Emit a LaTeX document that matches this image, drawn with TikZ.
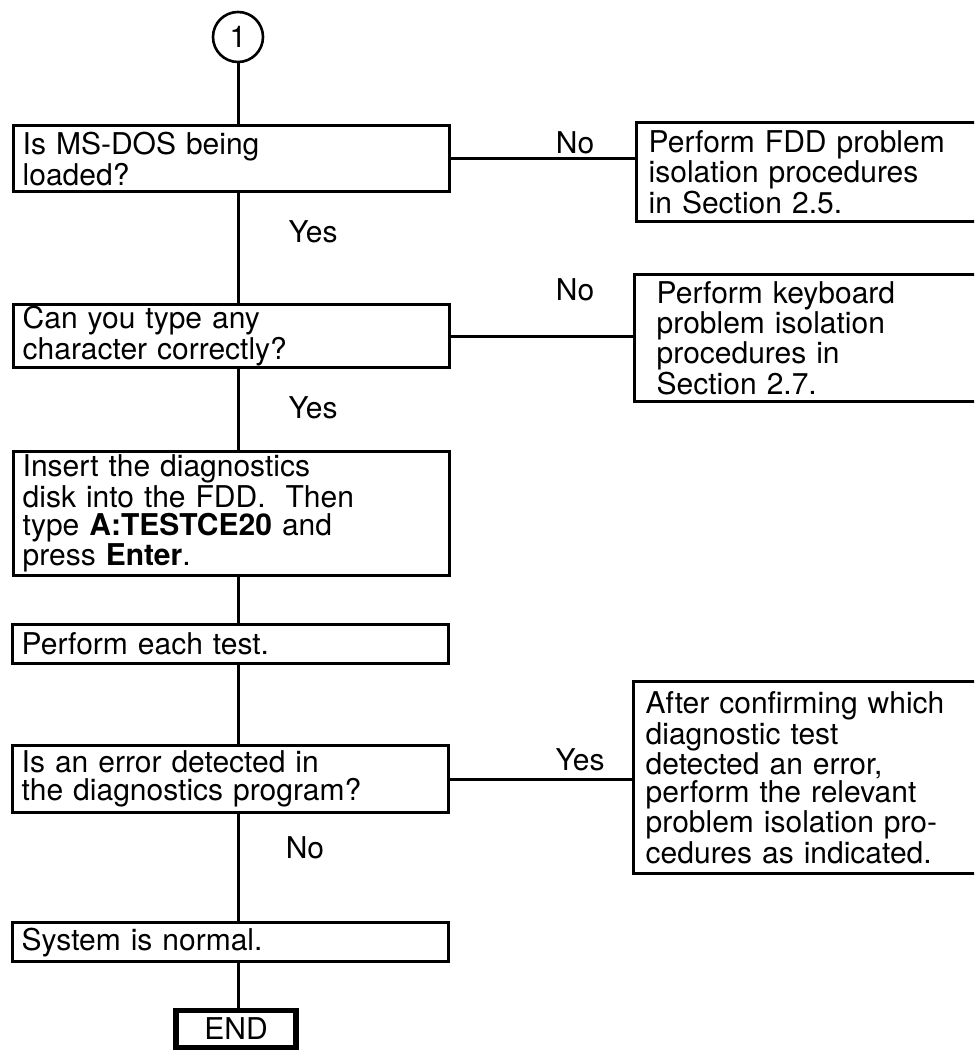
\documentclass[tikz,border=0pt]{standalone}
\usepackage{fontspec}
\setmainfont{TeX Gyre Heros}
\usetikzlibrary{calc}

\tikzset{
	stepbox/.style={draw, rectangle, line width=1.7pt, anchor=north west,
		inner xsep=4.5pt, inner ysep=0pt, text width=209pt, align=left},
	sidebox/.style={draw, rectangle, line width=1.7pt, anchor=north west,
		inner xsep=6pt, inner ysep=0pt, text width=188pt, align=left},
	endbox/.style={draw, rectangle, line width=2.8pt, minimum width=60pt, minimum height=18.5pt, inner sep=0pt},
	answer/.style={inner sep=0pt},
	wire/.style={line width=1.5pt},
}

\begin{document}
\begin{tikzpicture}[x=0.5pt, y=-0.5pt, font=\fontsize{15}{14}\selectfont]
		\useasboundingbox (0,0) rectangle (974,1052);
		\clip (0,0) rectangle (974,1052);
		% start marker
		\node[draw, circle, line width=1.3pt, minimum size=25pt, inner sep=0pt] (start) at (238,37) {1};
		% main column
		\node[stepbox, minimum height=33pt] (msdos) at (12,124) {Is MS-DOS being\\loaded?};
		\node[stepbox, minimum height=31.5pt] (keys) at (12,303) {Can you type any\\character correctly?};
		\node[stepbox, minimum height=62pt] (insert) at (12,450)
			{Insert the diagnostics\\disk into the FDD.~~Then\\type \textbf{A:TESTCE20} and\\press \textbf{Enter}.};
		\node[stepbox, minimum height=19.5pt] (tests) at (11,623) {Perform each test.};
		\node[stepbox, minimum height=33.5pt] (error) at (11,744) {Is an error detected in\\the diagnostics program?};
		\node[stepbox, minimum height=19.5pt] (normal) at (11,921) {System is normal.};
		\node[endbox] (finish) at (236,1029) {END};
		% side column
		\node[sidebox, minimum height=49.5pt] (fdd) at (635,121)
			{Perform FDD problem\\isolation procedures\\in Section 2.5.};
		\node[sidebox, inner xsep=11pt, text width=178pt, minimum height=63.5pt] (kbd) at (633,273)
			{Perform keyboard\\problem isolation\\procedures in\\Section 2.7.};
		\node[sidebox, minimum height=96pt] (isolate) at (632,680)
			{After confirming which\\diagnostic test\\detected an error,\\perform the relevant\\problem isolation pro-\\cedures as indicated.};
		% answers
		\node[answer] (no1) at (575,143) {No};
		\node[answer] (yes1) at (313,232) {Yes};
		\node[answer] (no2) at (575,290) {No};
		\node[answer] (yes2) at (313,408) {Yes};
		\node[answer] (yes3) at (580,760) {Yes};
		\node[answer] (no3) at (305,848) {No};
		% connectors
		\draw[wire] (start) -- (start |- msdos.north);
		\draw[wire] (start |- msdos.south) -- (start |- keys.north);
		\draw[wire] (start |- keys.south) -- (start |- insert.north);
		\draw[wire] (start |- insert.south) -- (start |- tests.north);
		\draw[wire] (start |- tests.south) -- (start |- error.north);
		\draw[wire] (start |- error.south) -- (start |- normal.north);
		\draw[wire] (start |- normal.south) -- (start |- finish.north);
		\draw[wire] (msdos) -- (msdos -| fdd.west);
		\draw[wire] (keys) -- (keys -| kbd.west);
		\draw[wire] (error) -- (error -| isolate.west);
	\end{tikzpicture}
\end{document}
